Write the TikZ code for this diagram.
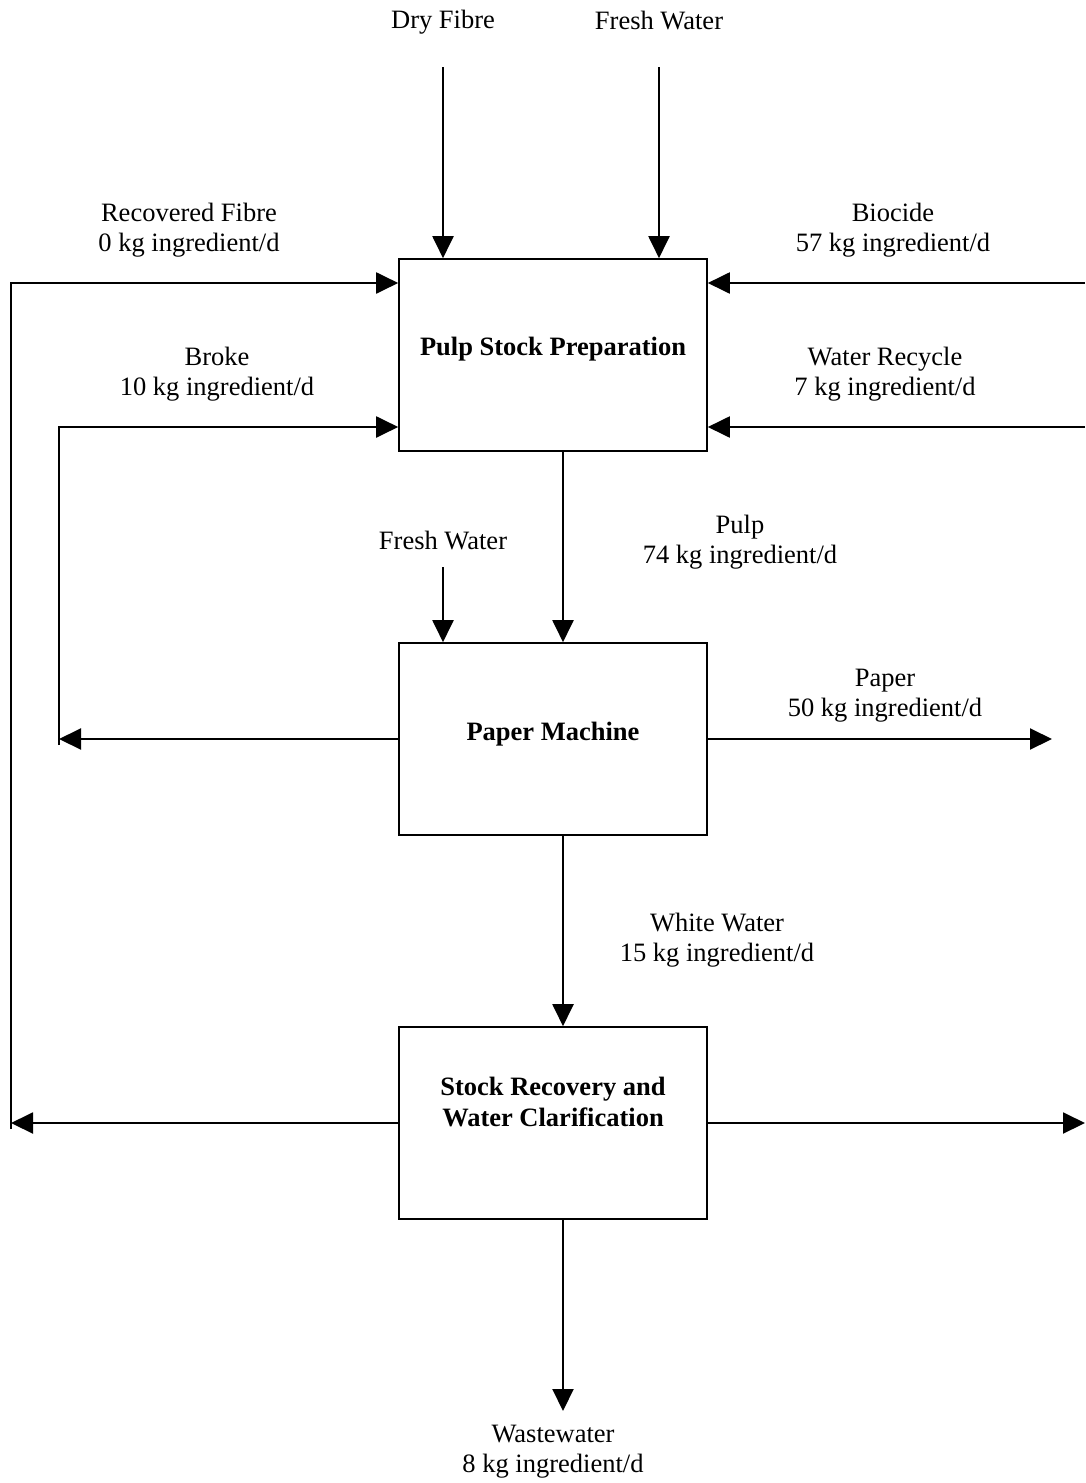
\documentclass[tikz,border=0pt]{standalone}
\usepackage{fontspec}
\setmainfont{Liberation Serif}
\usetikzlibrary{arrows.meta}
\begin{document}
\begin{tikzpicture}[x=1pt,y=-1pt,
  flow/.style={line width=2pt,-{Triangle[length=22pt,width=21pt]}},
  unit/.style={draw,line width=1.6pt,minimum width=308pt,minimum height=192pt,inner sep=0pt},
  unittext/.style={align=center,inner sep=0pt,font=\fontsize{26.5}{31}\selectfont\bfseries},
  lbl/.style={align=center,inner sep=0pt,font=\fontsize{26.5}{30}\selectfont}]
\useasboundingbox (0,0) rectangle (1085,1483);

% process units
\node[unit] (prep) at (553,355) {};
\node[unit] (machine) at (553,739) {};
\node[unit] (clar) at (553,1123) {};
\node[unittext] (preptxt) at (553,349) {Pulp Stock Preparation};
\node[unittext] (machinetxt) at (553,734) {Paper Machine};
\node[unittext] (clartxt) at (553,1102) {Stock Recovery and\\Water Clarification};

% free ends of the streams
\coordinate (dryin) at (443,67);
\coordinate (fwin) at (659,67);
\coordinate (fw2in) at (443,567);
\coordinate (rfbot) at (11,1123);
\coordinate (rftop) at (11,283);
\coordinate (brbot) at (59,739);
\coordinate (brtop) at (59,427);
\coordinate (bioin) at (1085,283);
\coordinate (wrin) at (1085,427);
\coordinate (paperout) at (1052,739);
\coordinate (clarout) at (1085,1123);
\coordinate (wwout) at (563,1411);
\coordinate (mainx) at (563,0);

% feeds into stock preparation
\draw[flow] (dryin) -- (dryin |- prep.north);
\draw[flow] (fwin) -- (fwin |- prep.north);
\draw[flow] (bioin) -- (bioin -| prep.east);
\draw[flow] (wrin) -- (wrin -| prep.east);

% recovered fibre loop
\draw[flow] (clar.west) -- (rfbot);
\draw[flow] (rfbot) ++(0,6) -- (rftop) -- (rftop -| prep.west);

% broke loop
\draw[flow] (machine.west) -- (brbot);
\draw[flow] (brbot) ++(0,6) -- (brtop) -- (brtop -| prep.west);

% main line
\draw[flow] (prep.south -| mainx) -- (machine.north -| mainx);
\draw[flow] (fw2in) -- (fw2in |- machine.north);
\draw[flow] (machine.east) -- (paperout);
\draw[flow] (machine.south -| mainx) -- (clar.north -| mainx);
\draw[flow] (clar.east) -- (clarout);
\draw[flow] (clar.south -| mainx) -- (wwout);

% stream labels
\node[lbl] (ldry) at (443,22) {Dry Fibre};
\node[lbl] (lfw) at (659,21) {Fresh Water};
\node[lbl] (lrf) at (189,230) {Recovered Fibre\\0 kg ingredient/d};
\node[lbl] (lbio) at (893,230) {Biocide\\57 kg ingredient/d};
\node[lbl] (lbr) at (217,374) {Broke\\10 kg ingredient/d};
\node[lbl] (lwr) at (885,374) {Water Recycle\\7 kg ingredient/d};
\node[lbl] (lfw2) at (443,541) {Fresh Water};
\node[lbl] (lpulp) at (740,542) {Pulp\\74 kg ingredient/d};
\node[lbl] (lpaper) at (885,696) {Paper\\50 kg ingredient/d};
\node[lbl] (lww) at (717,940) {White Water\\15 kg ingredient/d};
\node[lbl] (lwaste) at (553,1452) {Wastewater\\8 kg ingredient/d};
\end{tikzpicture}
\end{document}
